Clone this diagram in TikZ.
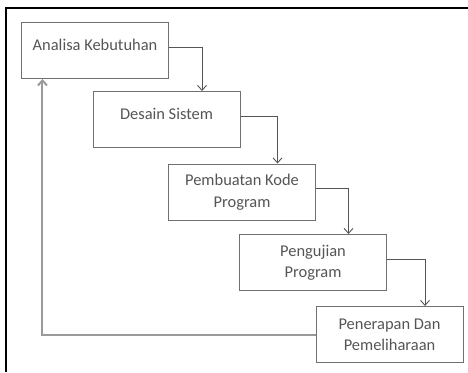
\documentclass[tikz,border=0pt]{standalone}
\usepackage{fontspec}
\setmainfont{Carlito}
\usetikzlibrary{arrows.meta,calc}
\definecolor{boxline}{HTML}{707070}
\definecolor{boxtext}{HTML}{555555}
\definecolor{flowline}{HTML}{555555}
\definecolor{backline}{HTML}{9A9A9A}
\begin{document}
\begin{tikzpicture}[x=1bp,y=-1bp,
  stage/.style={draw=boxline, line width=1bp, minimum width=147bp, minimum height=56bp,
    align=center, text=boxtext, inner sep=0pt,
    font=\fontsize{16.5}{21.5}\selectfont},
  oneline/.style={text depth=12bp},
  flow/.style={draw=flowline, line width=0.9bp, -{Straight Barb[length=5bp,width=9bp]}},
  back/.style={draw=backline, line width=2bp, -{Straight Barb[length=5bp,width=9bp]}}]
  \useasboundingbox (0,0) rectangle (468,372);
  % frame of the surrounding cell
  \draw[line width=1.8bp] (6,372) -- (6,8) -- (468,8);

  % stages
  \node[stage, oneline] (b1) at (95,50.5) {Analisa Kebutuhan};
  \node[stage, oneline] (b2) at (166.5,119.5) {Desain Sistem};
  \node[stage] (b3) at (242,192) {Pembuatan Kode\\Program};
  \node[stage] (b4) at (313,262.5) {Pengujian\\Program};
  \node[stage] (b5) at (389.5,334.5) {Penerapan Dan\\Pemeliharaan};

  % step connectors
  \foreach \a/\b in {b1/b2, b2/b3, b3/b4, b4/b5}{
    \draw[flow] ($(\a.north east)!0.44!(\a.south east)$)
      -| ($(\b.north west)!0.74!(\b.north east)$);
  }

  % feedback to the first stage
  \draw[back] ($(b5.north west)!0.5!(b5.south west)$)
    -| ($(b1.south west)!0.145!(b1.south east)$);
\end{tikzpicture}
\end{document}
